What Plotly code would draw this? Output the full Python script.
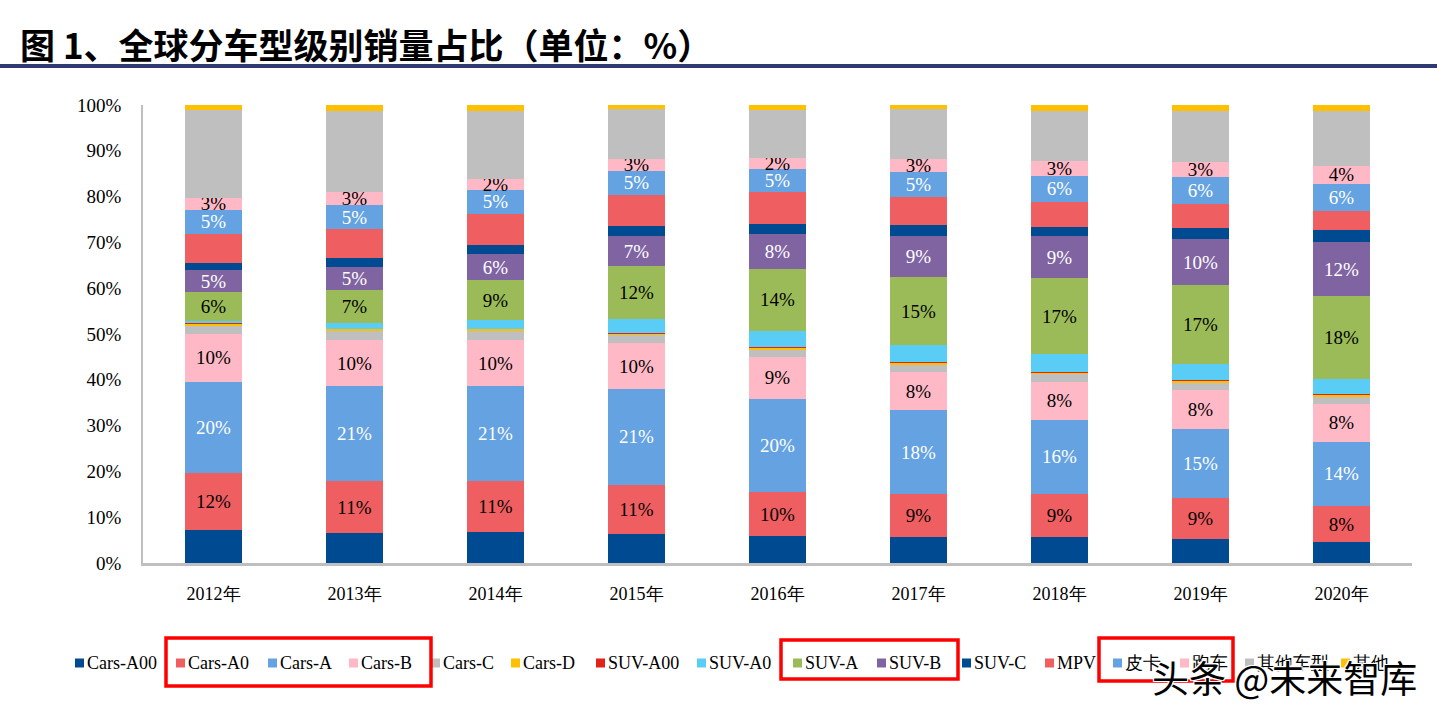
import plotly.graph_objects as go

years = ["2012年", "2013年", "2014年", "2015年", "2016年", "2017年", "2018年", "2019年", "2020年"]

cars_a00 = [7.2, 6.5, 6.8, 6.3, 5.8, 5.6, 5.7, 5.3, 4.6]
cars_a0 = [12.4, 11.3, 11.0, 10.8, 9.7, 9.4, 9.4, 8.9, 7.8]
cars_a = [20.0, 20.9, 20.9, 20.9, 20.4, 18.3, 16.2, 15.1, 14.1]
cars_b = [10.4, 9.9, 9.9, 10.0, 9.0, 8.3, 8.2, 8.4, 8.2]
cars_c = [1.9, 2.2, 2.1, 1.8, 1.7, 1.8, 1.8, 1.7, 1.7]
cars_d = [0.3, 0.3, 0.4, 0.4, 0.4, 0.4, 0.4, 0.4, 0.3]
suv_a00 = [0.1, 0.1, 0.1, 0.1, 0.1, 0.1, 0.1, 0.1, 0.3]
suv_a0 = [0.6, 1.1, 1.8, 2.9, 3.5, 3.6, 3.8, 3.6, 3.2]
suv_a = [6.3, 7.3, 8.7, 11.6, 13.7, 15.0, 16.6, 17.1, 18.0]
suv_b = [4.7, 5.1, 5.8, 6.6, 7.6, 9.0, 9.1, 10.2, 11.9]
suv_c = [1.7, 1.8, 1.9, 2.2, 2.2, 2.2, 2.0, 2.3, 2.5]
mpv = [6.3, 6.4, 6.9, 6.8, 6.8, 6.3, 5.6, 5.2, 4.2]
pickup = [5.2, 5.2, 5.1, 5.2, 5.2, 5.4, 5.6, 6.0, 6.0]
sports = [2.7, 2.8, 2.4, 2.6, 2.4, 2.9, 3.2, 3.3, 3.9]
others = [19.1, 17.9, 14.9, 10.9, 10.5, 10.8, 10.9, 11.0, 12.1]
others2 = [1.1, 1.2, 1.4, 1.2, 1.2, 1.2, 1.4, 1.4, 1.4]

series_names = ["Cars-A00", "Cars-A0", "Cars-A", "Cars-B", "Cars-C", "Cars-D",
                "SUV-A00", "SUV-A0", "SUV-A", "SUV-B", "SUV-C", "MPV",
                "皮卡", "跑车", "其他车型", "其他"]
series_values = [cars_a00, cars_a0, cars_a, cars_b, cars_c, cars_d,
                 suv_a00, suv_a0, suv_a, suv_b, suv_c, mpv,
                 pickup, sports, others, others2]

y_tick_vals = [0, 10, 20, 30, 40, 50, 60, 70, 80, 90, 100]
y_tick_text = ["0%", "10%", "20%", "30%", "40%", "50%", "60%", "70%", "80%", "90%", "100%"]

colors = ["#004A91", "#EF5F61", "#65A2E1", "#FFB9C6", "#BFBFBF", "#FFC000",
          "#E2231A", "#59CDF5", "#9BBB59", "#8064A2", "#004A91", "#EF5F61",
          "#65A2E1", "#FFB9C6", "#BFBFBF", "#FFC000"]
label_color = {"Cars-A0": "black", "Cars-A": "white", "Cars-B": "black",
               "SUV-A": "black", "SUV-B": "white", "皮卡": "white", "跑车": "black"}

SERIF = "Liberation Serif"
W, H = 1437, 713
ML, MR, MT, MB = 143, 25, 105, 150
PW, PH = W - ML - MR, H - MT - MB

def px_x(p):
    return (p - ML) / PW

def px_y(p):
    return (H - MB - p) / PH

fig = go.Figure()
for name, vals, col in zip(series_names, series_values, colors):
    labelled = name in label_color
    fig.add_trace(go.Bar(
        x=years, y=vals, name=name,
        marker=dict(color=col, line=dict(width=0)),
        text=[f"{v:.0f}%" for v in vals] if labelled else None,
        textposition="inside" if labelled else "none",
        insidetextanchor="middle",
        textangle=0,
        textfont=dict(family=SERIF, size=19, color=label_color.get(name, "black")),
        hoverinfo="x+y+name",
        showlegend=False,
    ))

fig.update_layout(
    barmode="stack",
    bargap=0.6,
    width=W, height=H,
    margin=dict(l=ML, r=MR, t=MT, b=MB),
    paper_bgcolor="white", plot_bgcolor="white",
    uniformtext=dict(minsize=19, mode="show"),
    font=dict(family=SERIF, size=18, color="black"),
)
fig.update_yaxes(
    range=[0, 100], tickmode="array", tickvals=y_tick_vals, ticktext=y_tick_text,
    showgrid=False, zeroline=False,
    showline=True, linecolor="#BFBFBF", linewidth=1.5,
    ticks="", ticklabelstandoff=16,
    tickfont=dict(family=SERIF, size=19, color="black"),
)
fig.update_xaxes(
    showgrid=False, showline=True, linecolor="#BFBFBF", linewidth=2.5,
    ticks="", ticklabelstandoff=13,
    tickfont=dict(family=SERIF, size=18, color="black"),
)

# title and rule
fig.add_annotation(
    text="<b>图 1、全球分车型级别销量占比（单位：%）</b>",
    xref="paper", yref="paper", x=px_x(18), y=px_y(43),
    xanchor="left", yanchor="middle", showarrow=False,
    font=dict(family="Noto Sans CJK SC", size=35, color="black"),
)
fig.add_shape(type="line", xref="paper", yref="paper",
              x0=px_x(0), x1=px_x(W), y0=px_y(66), y1=px_y(66),
              line=dict(color="#2F3A73", width=4))

# custom legend in one row, as in the reference
legend_x = [75, 176, 268, 349, 431, 511, 596, 697, 793, 877, 962, 1045, 1113, 1180, 1245, 1341]
legend_y = 663
for name, col, lx in zip(series_names, colors, legend_x):
    fig.add_shape(type="rect", xref="paper", yref="paper",
                  x0=px_x(lx), x1=px_x(lx + 9), y0=px_y(legend_y + 4.5), y1=px_y(legend_y - 4.5),
                  fillcolor=col, line=dict(width=0))
    fig.add_annotation(text=name, xref="paper", yref="paper",
                       x=px_x(lx + 11), y=px_y(legend_y), xanchor="left", yanchor="middle",
                       showarrow=False, borderpad=0,
                       font=dict(family=SERIF, size=18, color="black"))

# red highlight boxes
for (x0, x1, y0, y1) in [(166, 431, 638, 686), (781, 958, 640, 679), (1099, 1233, 638, 681)]:
    fig.add_shape(type="rect", xref="paper", yref="paper",
                  x0=px_x(x0), x1=px_x(x1), y0=px_y(y1), y1=px_y(y0),
                  line=dict(color="#FF0000", width=3.5), fillcolor="rgba(0,0,0,0)")

# watermark
fig.add_annotation(text="头条 @未来智库", xref="paper", yref="paper",
                   x=px_x(1150), y=px_y(677), xanchor="left", yanchor="middle",
                   showarrow=False,
                   font=dict(family="Noto Sans CJK SC", size=37, color="black",
                             shadow="1px 1px 0 white, -1px -1px 0 white, 1px -1px 0 white, -1px 1px 0 white"))

fig.write_html("out.html", config={"displayModeBar": False},
               post_script="document.body.style.margin='0';")
